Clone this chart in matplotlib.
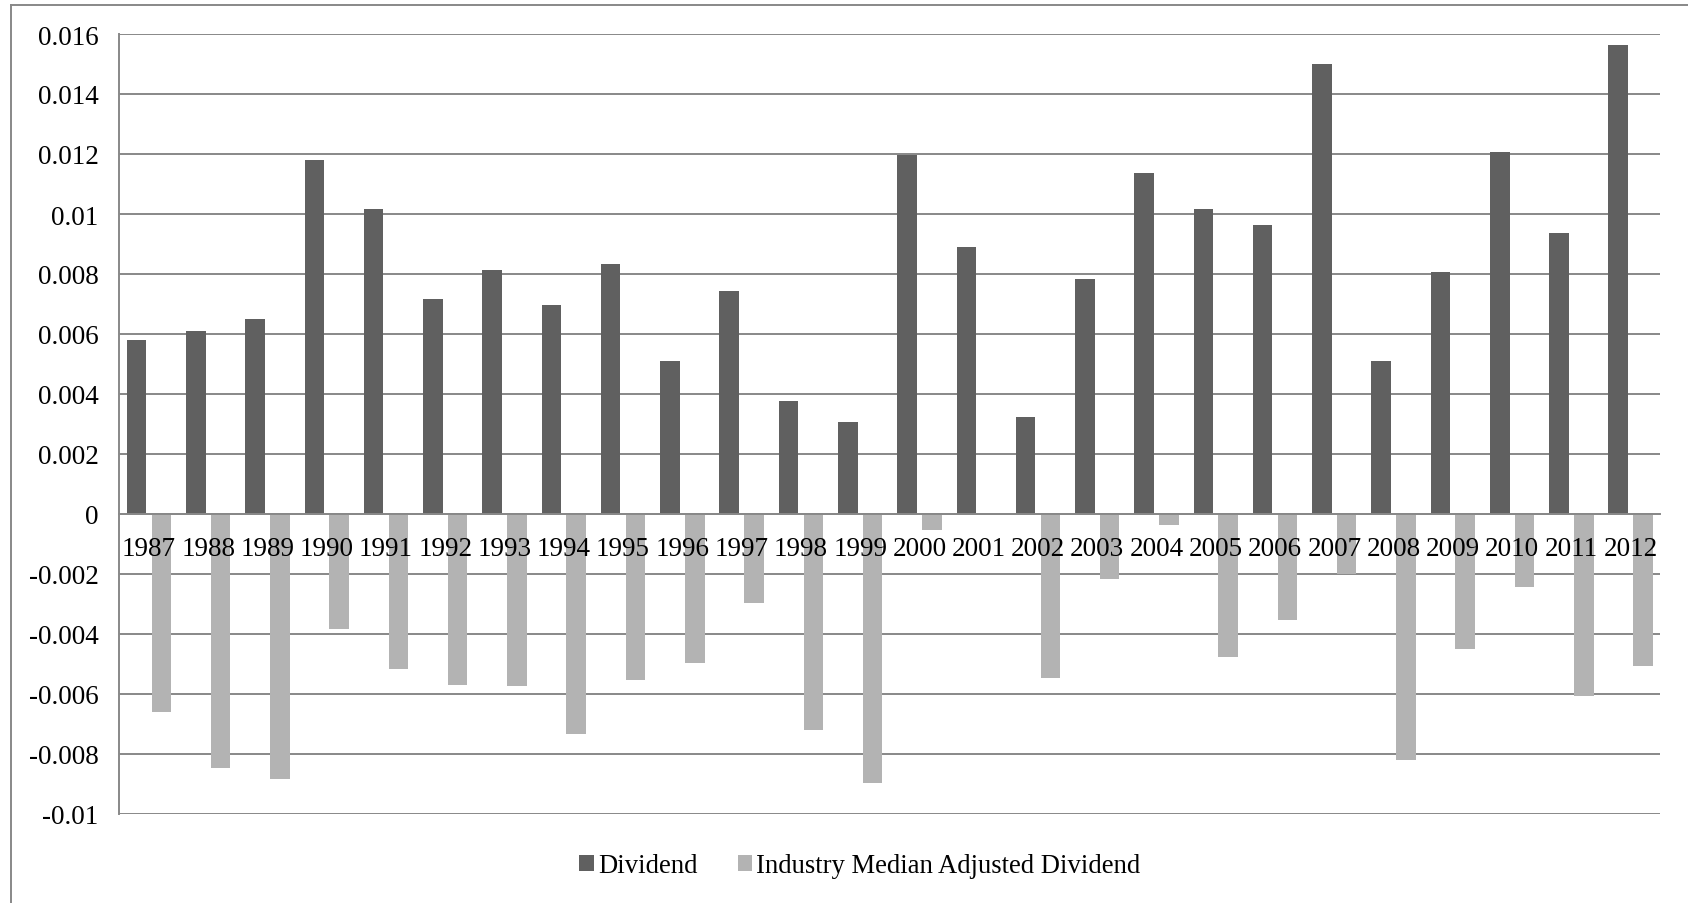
import matplotlib
matplotlib.use("Agg")
import matplotlib.pyplot as plt
import numpy as np
from matplotlib.ticker import MultipleLocator, FuncFormatter
from matplotlib.lines import Line2D

years = [str(y) for y in range(1987, 2013)]
dividend = [0.0058, 0.00611, 0.00651, 0.0118, 0.01017, 0.00716, 0.00812, 0.00696,
            0.00832, 0.0051, 0.00742, 0.00376, 0.00306, 0.01198, 0.00891, 0.00322,
            0.00782, 0.01137, 0.01017, 0.00963, 0.01499, 0.0051, 0.00808, 0.01208,
            0.00936, 0.01564]
industry_adj = [-0.00661, -0.00847, -0.00882, -0.00382, -0.00517, -0.0057, -0.00574, -0.00734,
                -0.00552, -0.00496, -0.00298, -0.0072, -0.00898, -0.00054, 0.0, -0.00546,
                -0.00217, -0.00036, -0.00476, -0.00354, -0.002, -0.00821, -0.00451, -0.00244,
                -0.00606, -0.00506]
series_names = ["Dividend", "Industry Median Adjusted Dividend"]

plt.rcParams['font.family'] = ['Liberation Serif', 'DejaVu Serif']

W, H = 1688, 904
fig = plt.figure(figsize=(W / 100, H / 100), dpi=100)
ax = fig.add_axes([119.3 / W, (H - 815) / H, 1541 / W, 780 / H])

x = np.arange(len(years))
bw = 0.33
off = 0.209
dark = '#606060'
light = '#b3b3b3'
grid_c = '#888888'
fs = 19.5

ax.bar(x - off, dividend, width=bw, color=dark, label=series_names[0], zorder=2)
ax.bar(x + off, industry_adj, width=bw, color=light, label=series_names[1], zorder=2)

ax.set_xlim(-0.5, len(years) - 0.5)
ax.set_ylim(-0.01, 0.016)
ax.yaxis.set_major_locator(MultipleLocator(0.002))
ax.yaxis.set_major_formatter(FuncFormatter(lambda v, p: f"{round(v, 4) + 0.0:g}"))
ax.yaxis.grid(True, color=grid_c, linewidth=1.4)
ax.yaxis.set_zorder(0.5)

ax.set_xticks(x)
ax.set_xticklabels(years)
ax.tick_params(axis='x', length=0, pad=16, labelsize=fs, colors='black')
ax.tick_params(axis='y', length=0, pad=15, labelsize=fs, colors='black')
ax.xaxis.set_zorder(5)

ax.spines['top'].set_visible(False)
ax.spines['right'].set_visible(False)
ax.spines['bottom'].set_position(('data', 0))
ax.spines['bottom'].set_color(grid_c)
ax.spines['bottom'].set_linewidth(1.4)
ax.spines['bottom'].set_zorder(3)
ax.spines['left'].set_color(grid_c)
ax.spines['left'].set_linewidth(1.4)

leg = fig.legend(loc='center', bbox_to_anchor=(860 / W, 1 - 867 / H), ncol=2,
                 frameon=False, fontsize=19.2, handlelength=0.55, handleheight=0.55,
                 handletextpad=0.15, columnspacing=1.5)

# chart-area border
fig.add_artist(Line2D([11 / W, 11 / W], [0, 1 - 6 / H], transform=fig.transFigure,
                      color=grid_c, linewidth=1.4))
fig.add_artist(Line2D([11 / W, 1], [1 - 6 / H, 1 - 6 / H], transform=fig.transFigure,
                      color=grid_c, linewidth=1.4))

fig.savefig('out.png', dpi=100)
